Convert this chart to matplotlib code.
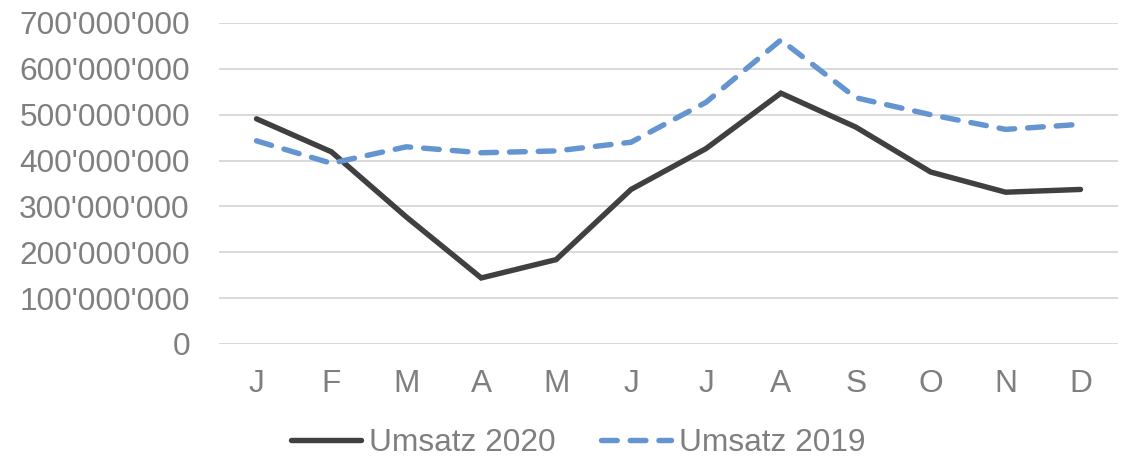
import matplotlib
matplotlib.use("Agg")
from matplotlib import pyplot as plt
from matplotlib.ticker import FuncFormatter

months = ["J", "F", "M", "A", "M", "J", "J", "A", "S", "O", "N", "D"]
umsatz_2020 = [491e6, 419e6, 277e6, 144e6, 184e6, 337e6, 426e6, 547e6, 473e6, 375e6, 331e6, 337e6]
umsatz_2019 = [443e6, 394e6, 430e6, 417e6, 421e6, 440e6, 527e6, 663e6, 537e6, 500e6, 468e6, 479e6]
y_ticks = [0, 100e6, 200e6, 300e6, 400e6, 500e6, 600e6, 700e6]

plt.rcParams['font.family'] = ['Liberation Sans', 'DejaVu Sans']
grey = '#7f7f7f'

fig = plt.figure(figsize=(11.32, 4.57), dpi=100)
ax = fig.add_axes([0.1935, 0.2473, 0.7941, 0.7024])

x = list(range(len(months)))
ax.plot(x, umsatz_2020, color='#404040', linewidth=3.9, solid_capstyle='round',
        solid_joinstyle='miter', label='Umsatz 2020')
ax.plot(x, umsatz_2019, color='#6595d0', linewidth=3.9, linestyle=(0, (2.9, 2.4)),
        dash_capstyle='round', label='Umsatz 2019')

ax.set_xlim(-0.5, len(months) - 0.5)
ax.set_ylim(0, 700e6)
ax.set_yticks(y_ticks)
ax.yaxis.set_major_formatter(FuncFormatter(lambda v, p: f"{v:,.0f}".replace(',', "'")))
ax.set_xticks(x)
ax.set_xticklabels(months)

ax.grid(axis='y', color='#d9d9d9', linewidth=1.4)
ax.set_axisbelow(True)
for s in ax.spines.values():
    s.set_visible(False)
ax.tick_params(axis='both', length=0, labelsize=22.8, labelcolor=grey)
ax.tick_params(axis='y', pad=21)
ax.tick_params(axis='x', pad=18)

fig.legend(loc='lower center', bbox_to_anchor=(0.511, -0.065), ncol=2, frameon=False,
           fontsize=22.8, labelcolor=grey, handlelength=2.2, handletextpad=0.25,
           columnspacing=1.45)

fig.savefig('out.png', dpi=100)
